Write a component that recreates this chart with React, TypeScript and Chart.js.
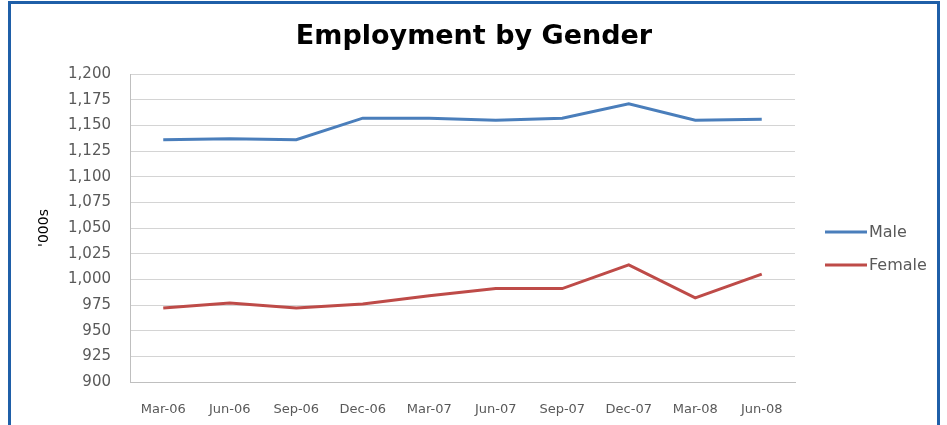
import React, { useEffect, useRef } from "react";
import { Chart, registerables } from "chart.js";

Chart.register(...registerables);

const categories = ["Mar-06", "Jun-06", "Sep-06", "Dec-06", "Mar-07", "Jun-07", "Sep-07", "Dec-07", "Mar-08", "Jun-08"];
const maleValues = [1136, 1137, 1136, 1157, 1157, 1155, 1157, 1171, 1155, 1156];
const femaleValues = [972, 977, 972, 976, 984, 991, 991, 1014, 982, 1005];
const seriesNames = ["Male", "Female"];
const seriesColors = ["#4a7ebb", "#be4b48"];
const chartTitle = "Employment by Gender";
const yMin = 900;
const yMax = 1200;
const yStep = 25;

const customDecor = {
  id: "customDecor",
  afterDraw(chart: any) {
    const ctx = chart.ctx;
    ctx.save();
    // title
    ctx.fillStyle = "#000000";
    ctx.font = "bold 27px 'DejaVu Sans'";
    ctx.textAlign = "center";
    ctx.textBaseline = "alphabetic";
    ctx.fillText(chartTitle, 474, 44);
    // legend
    const x0 = 825;
    const yStart = 232;
    const gap = 33;
    chart.data.datasets.forEach((ds: any, i: number) => {
      const y = yStart + i * gap;
      ctx.strokeStyle = ds.borderColor;
      ctx.lineWidth = 3;
      ctx.beginPath();
      ctx.moveTo(x0, y);
      ctx.lineTo(x0 + 42, y);
      ctx.stroke();
      ctx.fillStyle = "#595959";
      ctx.font = "16px 'DejaVu Sans'";
      ctx.textBaseline = "middle";
      ctx.textAlign = "left";
      ctx.fillText(ds.label, x0 + 44, y + 1);
    });
    ctx.restore();
  },
};

export default function App() {
  const ref = useRef<HTMLCanvasElement | null>(null);
  useEffect(() => {
    if (!ref.current) return;
    const chart = new Chart(ref.current, {
      type: "line",
      data: {
        labels: categories,
        datasets: [
          { label: seriesNames[0], data: maleValues, borderColor: seriesColors[0], backgroundColor: seriesColors[0], borderWidth: 3, pointRadius: 0, tension: 0 },
          { label: seriesNames[1], data: femaleValues, borderColor: seriesColors[1], backgroundColor: seriesColors[1], borderWidth: 3, pointRadius: 0, tension: 0 },
        ],
      },
      options: {
        responsive: false,
        animation: false,
        layout: { padding: { left: 10, right: 152, top: 74, bottom: 7 } },
        plugins: {
          title: { display: false },
          legend: { display: false },
          tooltip: { enabled: false },
        },
        scales: {
          x: {
            offset: true,
            afterFit: (scale: any) => { scale.height = 36; },
            grid: { display: false, drawTicks: false },
            border: { color: "#bfbfbf" },
            ticks: { color: "#595959", font: { family: "DejaVu Sans", size: 13 }, padding: 20, maxRotation: 0, autoSkip: false },
          },
          y: {
            min: yMin,
            max: yMax,
            afterFit: (scale: any) => { scale.width = 120; },
            grid: { color: "#d4d4d4", drawTicks: false },
            border: { color: "#bfbfbf" },
            ticks: {
              stepSize: yStep,
              color: "#595959",
              font: { family: "DejaVu Sans", size: 15 },
              padding: 19,
              callback: (v: any) => Number(v).toLocaleString("en-US"),
            },
            title: { display: true, text: "'000s", color: "#000000", font: { family: "DejaVu Sans", size: 14 }, padding: { top: 26, bottom: 0 } },
          },
        },
      },
      plugins: [customDecor],
    });
    return () => chart.destroy();
  }, []);
  return (
    <div style={{ position: "absolute", left: 0, top: 0, width: 947, height: 425, background: "#ffffff", overflow: "hidden" }}>
      <div style={{ position: "absolute", left: 8, top: 1, width: 926, height: 440, border: "3px solid #1f5fa8" }} />
      <canvas ref={ref} width={947} height={425} style={{ position: "absolute", left: 0, top: 0 }} />
    </div>
  );
}
